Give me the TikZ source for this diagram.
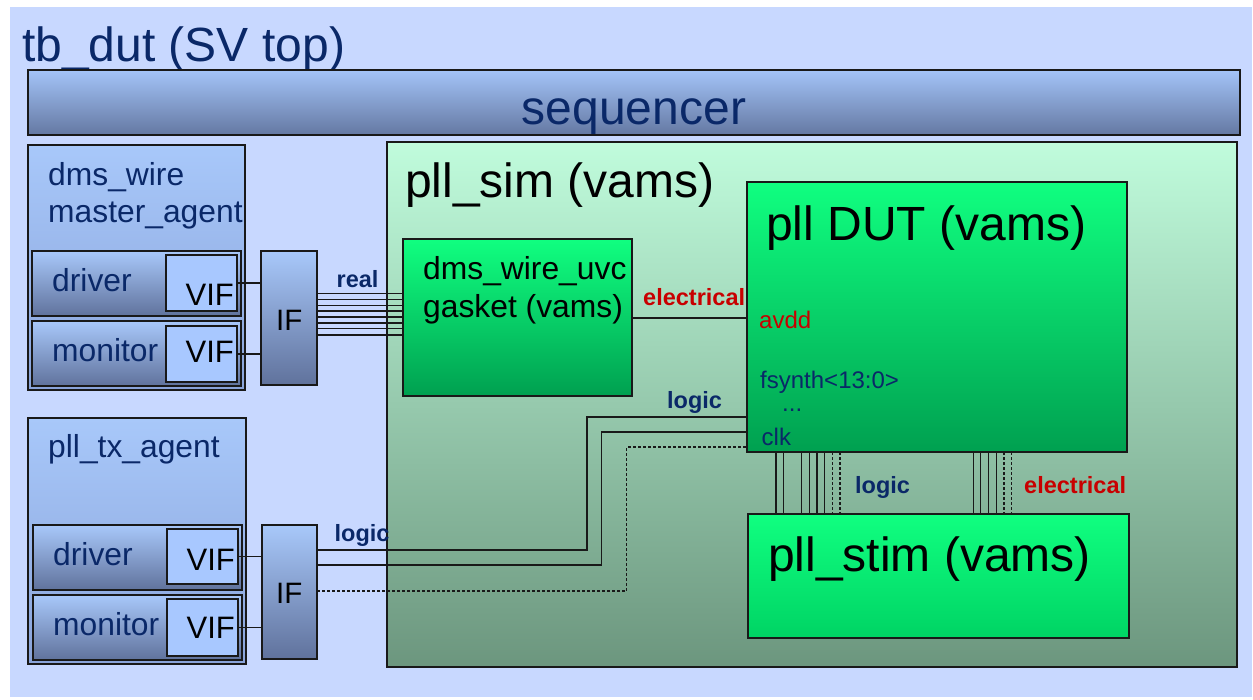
\documentclass[tikz,border=0pt]{standalone}
\usepackage{fontspec}
\setmainfont{Liberation Sans}
\usetikzlibrary{calc}
\definecolor{navy}{RGB}{10,40,104}
\definecolor{redlbl}{RGB}{200,0,0}
\definecolor{bgblue}{RGB}{200,216,255}
\definecolor{edge}{RGB}{25,25,25}
\tikzset{
  box/.style={draw=edge, line width=1.3pt, inner sep=0pt, outer sep=0pt, anchor=north west, shape=rectangle},
  bluegrad/.style={box, top color={rgb,255:red,168;green,200;blue,250}, bottom color={rgb,255:red,96;green,114;blue,156}},
  agentgrad/.style={box, top color={rgb,255:red,168;green,200;blue,250}, bottom color={rgb,255:red,138;green,164;blue,218}},
  vifbox/.style={box, fill={rgb,255:red,168;green,200;blue,255}},
  simgrad/.style={box, top color={rgb,255:red,192;green,252;blue,220}, bottom color={rgb,255:red,108;green,150;blue,126}},
  greengrad/.style={box, top color={rgb,255:red,16;green,255;blue,128}, bottom color={rgb,255:red,0;green,160;blue,80}},
  stimgrad/.style={box, top color={rgb,255:red,16;green,255;blue,128}, bottom color={rgb,255:red,0;green,212;blue,100}},
  txt/.style={inner sep=0pt, anchor=base west},
  bigtxt/.style={txt, font=\fontsize{48}{50}\selectfont},
  midtxt/.style={txt, font=\fontsize{31.8}{34}\selectfont},
  viftxt/.style={txt, font=\fontsize{31}{34}\selectfont},
  lbl/.style={txt, font=\fontsize{23.5}{25}\selectfont\bfseries},
  port/.style={txt, font=\fontsize{24}{26}\selectfont, text=navy},
  wire/.style={draw=edge, line width=1.4pt},
  dwire/.style={draw=edge, line width=1.3pt, dash pattern=on 3pt off 2pt},
}
\begin{document}
\begin{tikzpicture}[x=1pt, y=-1pt]
\useasboundingbox (0,0) rectangle (1253,699);
\fill[bgblue] (10,7) rectangle (1252,697);
\node[bigtxt, text=navy] (ttb) at (22,61) {tb\_dut (SV top)};

% sequencer
\node[box, top color={rgb,255:red,164;green,196;blue,248}, bottom color={rgb,255:red,100;green,120;blue,162}, minimum width=1212pt, minimum height=65pt] (seq) at (28,70) {};
\node[bigtxt, text=navy, anchor=base] (tseq) at (634,124) {sequencer};

% dms_wire master agent
\node[agentgrad, minimum width=217pt, minimum height=245pt] (ag1) at (28,145) {};
\node[midtxt, text=navy] (tag1a) at (48,185) {dms\_wire};
\node[midtxt, text=navy] (tag1b) at (48,222.5) {master\_agent};
\node[bluegrad, minimum width=209pt, minimum height=65pt] (drv1) at (32,251) {};
\node[vifbox, minimum width=71pt, minimum height=56pt] (vif1) at (166,255) {};
\node[bluegrad, minimum width=209pt, minimum height=65pt] (mon1) at (32,321) {};
\node[vifbox, minimum width=71pt, minimum height=56pt] (vif2) at (166,326) {};
\node[midtxt, text=navy] (tdrv1) at (52,291.5) {driver};
\node[midtxt, text=navy] (tmon1) at (52,361.5) {monitor};
\node[viftxt] (tvif1) at (185.5,305) {VIF};
\node[viftxt] (tvif2) at (185.5,362) {VIF};
\node[bluegrad, minimum width=56pt, minimum height=134pt] (if1) at (261,251) {};
\node[viftxt, font=\fontsize{29.5}{32}\selectfont] (tif1) at (276,330) {IF};

% pll_tx_agent
\node[agentgrad, minimum width=218pt, minimum height=246pt] (ag2) at (28,418) {};
\node[midtxt, text=navy] (tag2) at (48,457) {pll\_tx\_agent};
\node[bluegrad, minimum width=209pt, minimum height=65pt] (drv2) at (33,525) {};
\node[vifbox, minimum width=71pt, minimum height=55pt] (vif3) at (167,529) {};
\node[bluegrad, minimum width=209pt, minimum height=65pt] (mon2) at (33,595) {};
\node[vifbox, minimum width=71pt, minimum height=57pt] (vif4) at (167,599) {};
\node[midtxt, text=navy] (tdrv2) at (53,565) {driver};
\node[midtxt, text=navy] (tmon2) at (53,635) {monitor};
\node[viftxt] (tvif3) at (186.5,570) {VIF};
\node[viftxt] (tvif4) at (186.5,638.5) {VIF};
\node[bluegrad, minimum width=55pt, minimum height=134pt] (if2) at (262,525) {};
\node[viftxt, font=\fontsize{29.5}{32}\selectfont] (tif2) at (276,603.5) {IF};

% pll_sim
\node[simgrad, minimum width=850pt, minimum height=525pt] (sim) at (387,142) {};
\node[bigtxt] (tsim) at (405,197) {pll\_sim (vams)};

\node[greengrad, minimum width=229pt, minimum height=157pt] (gasket) at (403,239) {};
\node[midtxt] (tg1) at (423,279.5) {dms\_wire\_uvc};
\node[midtxt] (tg2) at (423,317.5) {gasket (vams)};

\node[greengrad, minimum width=380pt, minimum height=270pt] (dut) at (747,182) {};
\node[bigtxt] (tdut) at (766,240) {pll DUT (vams)};
\node[port, text=redlbl] (pavdd) at (759,328.5) {avdd};
\node[port] (pfs) at (760,388.5) {fsynth<13:0>};
\node[port] (pdots) at (782,411) {...};
\node[port] (pclk) at (761.5,445) {clk};

\node[stimgrad, minimum width=381pt, minimum height=124pt] (stim) at (748,514) {};
\node[bigtxt] (tstim) at (768,571) {pll\_stim (vams)};

% VIF -> IF connections
\draw[wire] (vif1.east) -- (if1.west |- vif1.east);
\draw[wire] (vif2.east) -- (if1.west |- vif2.east);
\draw[wire] (vif3.east) -- (if2.west |- vif3.east);
\draw[wire] (vif4.east) -- (if2.west |- vif4.east);

% real bus
\foreach \yy in {293.3,299.3,305.2,311.1,316.9,322.8,328.7,334.8}
  \draw[wire] (if1.east |- 0,\yy) -- (gasket.west |- 0,\yy);
\node[lbl, text=navy] (lreal) at (336.5,287.5) {real};

% electrical gasket -> dut
\draw[wire] (gasket.east |- 0,318) -- (dut.west |- 0,318);
\node[lbl, text=redlbl] (lel1) at (643,305) {electrical};

% logic IF2 -> DUT
\draw[wire] (if2.east |- 0,550) -- (587,550) -- (587,417) -- (dut.west |- 0,417);
\draw[wire] (if2.east |- 0,565) -- (601.5,565) -- (601.5,432) -- (dut.west |- 0,432);
\draw[dwire] (if2.east |- 0,591) -- (626.5,591) -- (626.5,447) -- (dut.west |- 0,447);
\node[lbl, text=navy] (llog1) at (334.5,541.5) {logic};
\node[lbl, text=navy] (llog2) at (667,408) {logic};

% DUT <-> stim buses
\foreach \xx in {776,783.7,801.7,809.3,817,824.7,973.3,980.7,988.3,996.3}
  \draw[wire] (dut.south -| \xx,0) -- (stim.north -| \xx,0);
\foreach \xx in {832.3,840,1004,1011.7}
  \draw[dwire] (dut.south -| \xx,0) -- (stim.north -| \xx,0);
\node[lbl, text=navy] (llog3) at (855,493.5) {logic};
\node[lbl, text=redlbl] (lel2) at (1024,493.5) {electrical};
\end{tikzpicture}
\end{document}
